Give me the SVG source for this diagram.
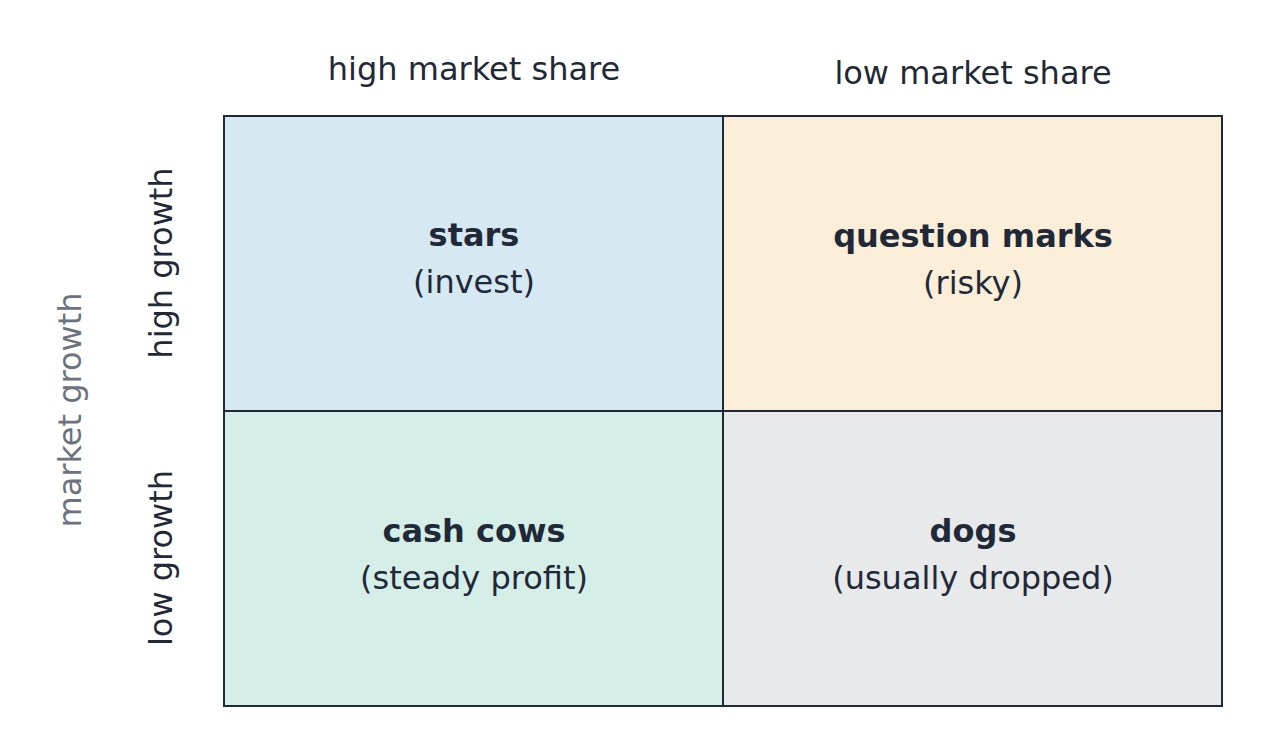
<svg xmlns="http://www.w3.org/2000/svg" width="1264" height="748" viewBox="0 0 1264 748">
<style>
  .cell { stroke: #1f2937; stroke-width: 2; }
  text { font-family: "DejaVu Sans", "Liberation Sans", sans-serif; font-size: 32px; fill: #1f2937; text-anchor: middle; }
  .b { font-weight: bold; }
  .axis { fill: #6b7280; }
</style>
<rect width="1264" height="748" fill="#ffffff"/>
<g id="stars">
  <rect class="cell" x="224" y="116" width="499" height="295" fill="#d6e8f2"/>
  <text class="b" x="474" y="246">stars</text>
  <text x="474" y="293">(invest)</text>
</g>
<g id="question-marks">
  <rect class="cell" x="723" y="116" width="499" height="295" fill="#faeed8"/>
  <text class="b" x="973" y="247">question marks</text>
  <text x="973" y="294">(risky)</text>
</g>
<g id="cash-cows">
  <rect class="cell" x="224" y="411" width="499" height="295" fill="#d6eee8"/>
  <text class="b" x="474" y="542">cash cows</text>
  <text x="474" y="589">(steady profit)</text>
</g>
<g id="dogs">
  <rect class="cell" x="723" y="411" width="499" height="295" fill="#e7e9eb"/>
  <text class="b" x="973" y="542">dogs</text>
  <text x="973" y="589">(usually dropped)</text>
</g>
<g id="labels">
  <text x="474" y="80">high market share</text>
  <text x="973" y="84">low market share</text>
  <text transform="translate(172,263) rotate(-90)">high growth</text>
  <text transform="translate(172,558) rotate(-90)">low growth</text>
  <text class="axis" transform="translate(81,410) rotate(-90)">market growth</text>
</g>
<g id="connectors"></g>
</svg>
